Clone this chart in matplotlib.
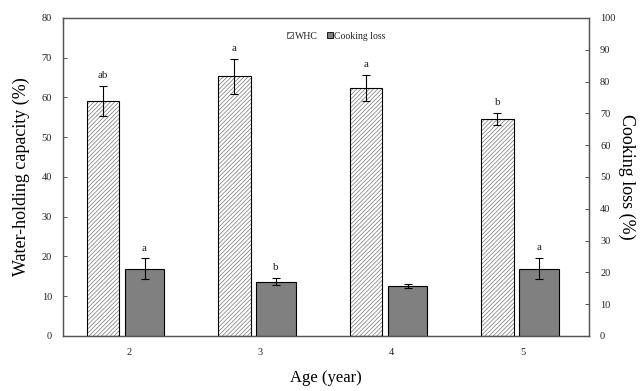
import numpy as np
import matplotlib
matplotlib.use('Agg')
import matplotlib.pyplot as plt
from matplotlib.patches import Patch

plt.rcParams['font.family'] = ['Liberation Serif', 'DejaVu Serif']
plt.rcParams['hatch.linewidth'] = 0.5

# Dados
ages = [2, 3, 4, 5]
whc = [59.1, 65.3, 62.4, 54.7]
whc_err = [3.8, 4.3, 3.2, 1.5]
whc_letters = ['ab', 'a', 'a', 'b']
cooking = [21.2, 17.1, 15.8, 21.2]
cooking_err = [3.2, 1.2, 0.6, 3.3]
cooking_letters = ['a', 'b', '', 'a']

x = np.array(ages, dtype=float)
axis_col = '#555555'
txt_col = '#222222'

fig = plt.figure(figsize=(6.43, 3.91), dpi=100)
ax = fig.add_axes([0.098, 0.1407, 0.818, 0.8133])
ax2 = ax.twinx()

# WHC - barras hachuradas
ax.bar(x - 0.196, whc, width=0.248, color='white', edgecolor='#777777',
       hatch='////////', linewidth=0, zorder=2)
ax.bar(x - 0.196, whc, width=0.248, fill=False, edgecolor='black',
       linewidth=0.8, zorder=3)
ax.errorbar(x - 0.196, whc, yerr=whc_err, fmt='none', ecolor='black',
            elinewidth=0.8, capsize=3, capthick=0.8, zorder=4)
for xi, v, e, t in zip(x - 0.196, whc, whc_err, whc_letters):
    ax.text(xi, v + e + 1.5, t, ha='center', va='bottom', fontsize=8, color=txt_col)

# Cooking loss - barras cinza no eixo direito
ax2.bar(x + 0.12, cooking, width=0.30, color='#808080', edgecolor='black',
        linewidth=0.8, zorder=2)
ax2.errorbar(x + 0.12, cooking, yerr=cooking_err, fmt='none', ecolor='black',
             elinewidth=0.8, capsize=3, capthick=0.8, zorder=4)
for xi, v, e, t in zip(x + 0.12, cooking, cooking_err, cooking_letters):
    if t:
        ax2.text(xi, v + e + 1.8, t, ha='center', va='bottom', fontsize=8, color=txt_col)

ax.set_xlim(1.5, 5.5)
ax.set_ylim(0, 80)
ax2.set_ylim(0, 100)
ax.set_xticks(ages)
ax.set_xticklabels([str(a) for a in ages])
ax.set_yticks(np.arange(0, 81, 10))
ax2.set_yticks(np.arange(0, 101, 10))

ax.tick_params(axis='x', length=0, labelsize=7.5, pad=9, labelcolor=txt_col)
ax.tick_params(axis='y', length=3, width=0.7, labelsize=7.5, direction='in',
               color=axis_col, labelcolor=txt_col, pad=8)
ax2.tick_params(axis='y', length=3, width=0.7, labelsize=7.5, direction='in',
                color=axis_col, labelcolor=txt_col, pad=8)

for a in (ax, ax2):
    for s in a.spines.values():
        s.set_linewidth(0.9)
        s.set_color(axis_col)

ax.set_ylabel('Water-holding capacity (%)', fontsize=13, labelpad=8)
ax2.set_ylabel('Cooking loss (%)', fontsize=13, rotation=270, labelpad=14)
ax.set_xlabel('Age (year)', fontsize=12, labelpad=9)

handles = [Patch(facecolor='white', edgecolor='#555555', hatch='//////', linewidth=0.6),
           Patch(facecolor='#808080', edgecolor='black', linewidth=0.6)]
ax.legend(handles, ['WHC', 'Cooking loss'], loc='upper center',
          bbox_to_anchor=(0.52, 0.985), ncol=2, frameon=False, fontsize=7,
          handlelength=0.6, handleheight=0.6, handletextpad=0.15,
          columnspacing=1.0, labelcolor=txt_col)

fig.savefig('out.png', dpi=100)
